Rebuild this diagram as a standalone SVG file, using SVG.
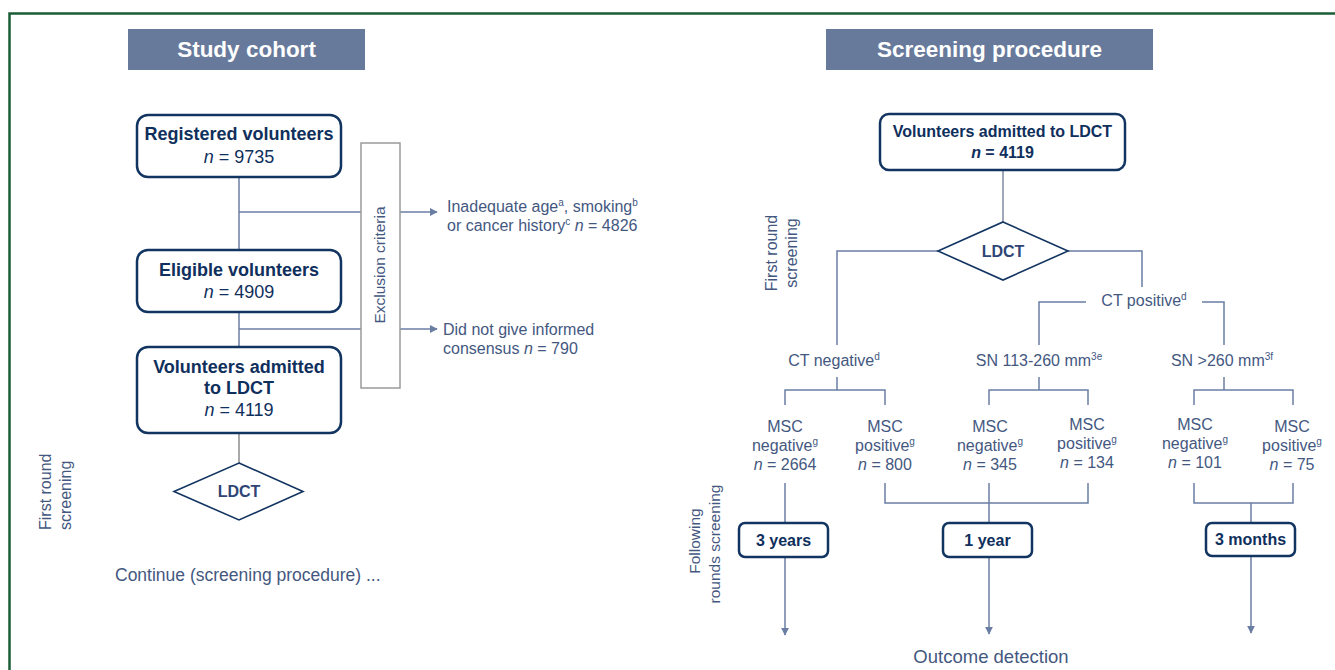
<svg xmlns="http://www.w3.org/2000/svg" width="1335" height="670" viewBox="0 0 1335 670">
<defs>
<style>
text{font-family:"Liberation Sans",Arial,Helvetica,sans-serif;}
.hdr{fill:#687a9c;}
.hdrt{fill:#ffffff;font-weight:bold;font-size:22.5px;text-anchor:middle;}
.box{fill:#ffffff;stroke:#123461;stroke-width:2.5;}
.bt{fill:#0f2f5c;font-weight:bold;font-size:18px;text-anchor:middle;}
.bt2{fill:#0f2f5c;font-weight:bold;font-size:16px;text-anchor:middle;}
.dia{fill:#ffffff;stroke:#123461;stroke-width:1.6;}
.dt{fill:#2e4575;font-weight:bold;font-size:16px;text-anchor:middle;}
.t{fill:#44587f;font-size:16px;}
.tc{fill:#44587f;font-size:16px;text-anchor:middle;}
.sup{font-size:10px;}
.ln{fill:none;stroke:#6a7ea3;stroke-width:1.5;}
.gl{fill:none;stroke:#8c8c8c;stroke-width:1.5;}
.ex{fill:#ffffff;stroke:#9a9a9a;stroke-width:1.5;}
</style>
<marker id="ah" viewBox="0 0 10 10" refX="9" refY="5" markerWidth="8" markerHeight="8" markerUnits="userSpaceOnUse" orient="auto">
<path d="M0,0 L10,5 L0,10 z" fill="#6a7ea3"/>
</marker>
</defs>
<rect x="0" y="0" width="1335" height="670" fill="#ffffff"/>
<path d="M9.5,670 V13.5 H1335" fill="none" stroke="#1a5e36" stroke-width="2.5"/>

<g id="header-study">
<rect class="hdr" x="128" y="29" width="237" height="41"/>
<text class="hdrt" x="246.5" y="57">Study cohort</text>
</g>
<g id="header-screening">
<rect class="hdr" x="826" y="29" width="327" height="41"/>
<text class="hdrt" x="989.5" y="57">Screening procedure</text>
</g>

<g id="connectors">
<line class="ln" x1="239" y1="177" x2="239" y2="250"/>
<line class="ln" x1="239" y1="212" x2="361" y2="212"/>
<line class="ln" x1="239" y1="312" x2="239" y2="347"/>
<line class="ln" x1="239" y1="329" x2="361" y2="329"/>
<line class="ln" x1="400" y1="212" x2="437" y2="212" marker-end="url(#ah)"/>
<line class="ln" x1="400" y1="329" x2="437" y2="329" marker-end="url(#ah)"/>
<line class="gl" x1="239" y1="433" x2="239" y2="463"/>

<line class="ln" x1="1003" y1="170" x2="1003" y2="222" style="stroke:#7f8ba3"/>
<polyline class="ln" points="938,251 837,251 837,345"/>
<polyline class="ln" points="1068,251 1142,251 1142,287"/>
<polyline class="ln" points="1086,302 1039,302 1039,345"/>
<polyline class="ln" points="1202,302 1224,302 1224,345"/>
<line class="ln" x1="837" y1="377" x2="837" y2="390"/>
<polyline class="ln" points="785,405 785,390 885,390 885,405"/>
<line class="ln" x1="1039" y1="377" x2="1039" y2="390"/>
<polyline class="ln" points="989,405 989,390 1088,390 1088,405"/>
<line class="ln" x1="1224" y1="377" x2="1224" y2="390"/>
<polyline class="ln" points="1194,405 1194,390 1293,390 1293,405"/>
<line class="ln" x1="785" y1="483" x2="785" y2="523"/>
<polyline class="ln" points="885,483 885,503 1088,503 1088,483"/>
<line class="ln" x1="989" y1="483" x2="989" y2="523"/>
<polyline class="ln" points="1194,483 1194,503 1293,503 1293,483"/>
<line class="ln" x1="1251" y1="503" x2="1251" y2="523"/>
<line class="ln" x1="785" y1="557" x2="785" y2="635" marker-end="url(#ah)"/>
<line class="ln" x1="989" y1="557" x2="989" y2="634" marker-end="url(#ah)"/>
<line class="ln" x1="1251" y1="555" x2="1251" y2="633" marker-end="url(#ah)"/>
</g>

<g id="registered">
<rect class="box" x="137" y="115" width="204" height="62" rx="11"/>
<text class="bt" x="239" y="140">Registered volunteers</text>
<text class="bt" x="239" y="163" style="font-weight:normal"><tspan font-style="italic">n</tspan> = 9735</text>
</g>
<g id="exclusion">
<rect class="ex" x="361" y="143" width="39" height="245"/>
<text class="t" transform="translate(385,265) rotate(-90)" text-anchor="middle" style="font-size:15.5px">Exclusion criteria</text>
</g>
<g id="excl1">
<text class="t" x="447" y="212">Inadequate age<tspan class="sup" dy="-6">a</tspan><tspan dy="6">, smoking</tspan><tspan class="sup" dy="-6">b</tspan></text>
<text class="t" x="447" y="231">or cancer history<tspan class="sup" dy="-6">c</tspan><tspan dy="6"> </tspan><tspan font-style="italic">n</tspan> = 4826</text>
</g>
<g id="excl2">
<text class="t" x="443" y="335">Did not give informed</text>
<text class="t" x="443" y="354">consensus <tspan font-style="italic">n</tspan> = 790</text>
</g>
<g id="eligible">
<rect class="box" x="137" y="250" width="204" height="62" rx="11"/>
<text class="bt" x="239" y="276">Eligible volunteers</text>
<text class="bt" x="239" y="298" style="font-weight:normal"><tspan font-style="italic">n</tspan> = 4909</text>
</g>
<g id="admitted-left">
<rect class="box" x="137" y="347" width="204" height="86" rx="11"/>
<text class="bt" x="239" y="373">Volunteers admitted</text>
<text class="bt" x="239" y="394">to LDCT</text>
<text class="bt" x="239" y="416" style="font-weight:normal"><tspan font-style="italic">n</tspan> = 4119</text>
</g>
<g id="ldct-left">
<polygon class="dia" points="239,463 303,491.5 239,520 174,491.5"/>
<text class="dt" x="239" y="497">LDCT</text>
</g>
<g id="first-round-left">
<text class="t" transform="translate(51,530) rotate(-90)">First round</text>
<text class="t" transform="translate(71,530) rotate(-90)">screening</text>
</g>
<g id="continue">
<text class="t" x="115" y="581" style="font-size:17.5px">Continue (screening procedure) ...</text>
</g>

<g id="admitted-right">
<rect class="box" x="880" y="114" width="245" height="56" rx="9"/>
<text class="bt2" x="1002.5" y="137">Volunteers admitted to LDCT</text>
<text class="bt2" x="1002.5" y="158"><tspan font-style="italic">n</tspan> = 4119</text>
</g>
<g id="ldct-right">
<polygon class="dia" points="1003,222 1068,251 1003,280 938,251"/>
<text class="dt" x="1003" y="257">LDCT</text>
</g>
<g id="first-round-right">
<text class="tc" transform="translate(777,253) rotate(-90)">First round</text>
<text class="tc" transform="translate(797,253) rotate(-90)">screening</text>
</g>
<g id="ct-positive">
<text class="tc" x="1144" y="306">CT positive<tspan class="sup" dy="-6">d</tspan></text>
</g>
<g id="ct-negative">
<text class="tc" x="834" y="366">CT negative<tspan class="sup" dy="-6">d</tspan></text>
</g>
<g id="sn-113">
<text class="tc" x="1039" y="366">SN 113-260 mm<tspan class="sup" dy="-6">3e</tspan></text>
</g>
<g id="sn-260">
<text class="tc" x="1222" y="366">SN &gt;260 mm<tspan class="sup" dy="-6">3f</tspan></text>
</g>

<g id="msc1">
<text class="tc" x="785" y="432">MSC</text>
<text class="tc" x="785" y="451">negative<tspan class="sup" dy="-6">g</tspan></text>
<text class="tc" x="785" y="470"><tspan font-style="italic">n</tspan> = 2664</text>
</g>
<g id="msc2">
<text class="tc" x="885" y="432">MSC</text>
<text class="tc" x="885" y="451">positive<tspan class="sup" dy="-6">g</tspan></text>
<text class="tc" x="885" y="470"><tspan font-style="italic">n</tspan> = 800</text>
</g>
<g id="msc3">
<text class="tc" x="990" y="432">MSC</text>
<text class="tc" x="990" y="451">negative<tspan class="sup" dy="-6">g</tspan></text>
<text class="tc" x="990" y="470"><tspan font-style="italic">n</tspan> = 345</text>
</g>
<g id="msc4">
<text class="tc" x="1087" y="430">MSC</text>
<text class="tc" x="1087" y="449">positive<tspan class="sup" dy="-6">g</tspan></text>
<text class="tc" x="1087" y="468"><tspan font-style="italic">n</tspan> = 134</text>
</g>
<g id="msc5">
<text class="tc" x="1195" y="430">MSC</text>
<text class="tc" x="1195" y="449">negative<tspan class="sup" dy="-6">g</tspan></text>
<text class="tc" x="1195" y="468"><tspan font-style="italic">n</tspan> = 101</text>
</g>
<g id="msc6">
<text class="tc" x="1292" y="432">MSC</text>
<text class="tc" x="1292" y="451">positive<tspan class="sup" dy="-6">g</tspan></text>
<text class="tc" x="1292" y="470"><tspan font-style="italic">n</tspan> = 75</text>
</g>

<g id="following">
<text class="tc" transform="translate(700,541) rotate(-90)" style="font-size:15.5px">Following</text>
<text class="tc" transform="translate(720,544) rotate(-90)" style="font-size:15.5px">rounds screening</text>
</g>
<g id="y3">
<rect class="box" x="739" y="523" width="89" height="34" rx="6"/>
<text class="bt2" x="783.5" y="546">3 years</text>
</g>
<g id="y1">
<rect class="box" x="943" y="523" width="89" height="34" rx="6"/>
<text class="bt2" x="987.5" y="546">1 year</text>
</g>
<g id="m3">
<rect class="box" x="1206" y="523" width="89" height="33" rx="6"/>
<text class="bt2" x="1250.5" y="545">3 months</text>
</g>
<g id="outcome">
<text class="tc" x="991" y="663" style="font-size:18.5px">Outcome detection</text>
</g>
</svg>
